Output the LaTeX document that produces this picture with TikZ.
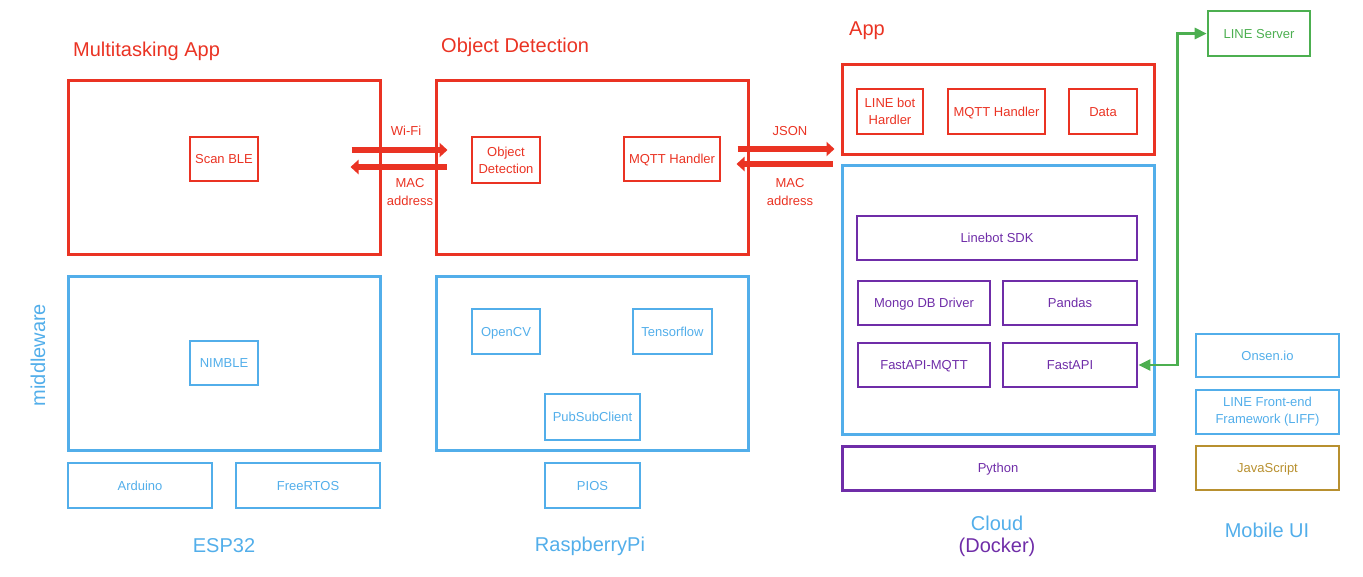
\documentclass[tikz,border=0pt]{standalone}
\usepackage{fontspec}
\setmainfont{Liberation Sans}
\usetikzlibrary{arrows.meta,calc}
\definecolor{cred}{HTML}{EA3323}
\definecolor{cblue}{HTML}{52AEEA}
\definecolor{cpurple}{HTML}{6F2DA8}
\definecolor{cgreen}{HTML}{4CAF50}
\definecolor{cgold}{HTML}{B8902F}
\begin{document}
\begin{tikzpicture}[x=1pt,y=-1pt,
  bx/.style={draw, line width=2.6pt, inner sep=0pt, font=\fontsize{13}{17}\selectfont, align=center},
  sl/.style={text height=9.4pt, text depth=0pt},
  rbx/.style={bx, draw=cred, text=cred},
  bbx/.style={bx, draw=cblue, text=cblue},
  pbx/.style={bx, draw=cpurple, text=cpurple},
  gbx/.style={bx, draw=cgreen, text=cgreen},
  ybx/.style={bx, draw=cgold, text=cgold},
  big/.style={line width=3pt},
  ttl/.style={font=\fontsize{20}{24}\selectfont, inner sep=0pt},
  lbl/.style={font=\fontsize{13}{18}\selectfont, inner sep=0pt, align=center, text=cred},
  fat/.style={draw=cred, line width=6.5pt, -{Triangle[length=8pt,width=14pt]}},
  grn/.style={draw=cgreen, line width=2.6pt, {Triangle[length=12pt,width=11pt]}-{Triangle[length=12pt,width=11pt]}}
]
\useasboundingbox (0,0) rectangle (1363,576);
% ESP32
\node[rbx, big, minimum width=312pt, minimum height=174pt] (espapp) at (224,167) {};
\node[rbx, sl, minimum width=68pt, minimum height=44pt] (scanble) at (224,159) {Scan BLE};
\node[bbx, big, minimum width=312pt, minimum height=174pt] (espmw) at (224,363) {};
\node[bbx, sl, minimum width=68pt, minimum height=44pt] (nimble) at (224,363) {NIMBLE};
\node[bbx, sl, minimum width=144pt, minimum height=45pt] (arduino) at (140,485.5) {Arduino};
\node[bbx, sl, minimum width=144pt, minimum height=45pt] (freertos) at (308,485.5) {FreeRTOS};
\node[ttl, text=cred, anchor=west] (t1) at (73,51) {Multitasking App};
\node[ttl, text=cblue] (esp) at (224,546) {ESP32};
\node[ttl, text=cblue, rotate=90] (mw) at (38,355) {middleware};
% RaspberryPi
\node[rbx, big, minimum width=312pt, minimum height=174pt] (odapp) at (592,167) {};
\node[rbx, minimum width=68pt, minimum height=46pt] (odinner) at (506,160) {Object\\Detection};
\node[rbx, sl, minimum width=96pt, minimum height=44pt] (mqtt1) at (672,159) {MQTT Handler};
\node[bbx, big, minimum width=312pt, minimum height=174pt] (rpimw) at (592,363) {};
\node[bbx, sl, minimum width=68pt, minimum height=45pt] (opencv) at (506,331.5) {OpenCV};
\node[bbx, sl, minimum width=79pt, minimum height=45pt] (tensorflow) at (672.5,331.5) {Tensorflow};
\node[bbx, sl, minimum width=95pt, minimum height=46pt] (pubsub) at (592.5,417) {PubSubClient};
\node[bbx, sl, minimum width=95pt, minimum height=45pt] (pios) at (592.5,485.5) {PIOS};
\node[ttl, text=cred, anchor=west] (t2) at (441,47) {Object Detection};
\node[ttl, text=cblue] (rpi) at (590,546) {RaspberryPi};
% Cloud
\node[rbx, big, minimum width=312pt, minimum height=90pt] (cloudapp) at (998,109) {};
\node[rbx, minimum width=66pt, minimum height=45pt] (linebot) at (890,111.5) {LINE bot\\Hardler};
\node[rbx, sl, minimum width=97pt, minimum height=45pt] (mqtt2) at (996.5,111.5) {MQTT Handler};
\node[rbx, sl, minimum width=68pt, minimum height=45pt] (data) at (1103,111.5) {Data};
\node[bbx, big, minimum width=312pt, minimum height=269pt] (cloudmw) at (998,299.5) {};
\node[pbx, sl, minimum width=280pt, minimum height=44pt] (sdk) at (997,238) {Linebot SDK};
\node[pbx, sl, minimum width=132pt, minimum height=44pt] (mongo) at (924,303) {Mongo DB Driver};
\node[pbx, sl, minimum width=134pt, minimum height=44pt] (pandas) at (1070,303) {Pandas};
\node[pbx, sl, minimum width=132pt, minimum height=44pt] (fastmqtt) at (924,365) {FastAPI-MQTT};
\node[pbx, sl, minimum width=134pt, minimum height=44pt] (fastapi) at (1070,365) {FastAPI};
\node[pbx, sl, big, minimum width=312pt, minimum height=44pt] (python) at (998,468) {Python};
\node[ttl, text=cred, anchor=west] (t3) at (849,31) {App};
\node[ttl, text=cblue] (cloud) at (997,523) {Cloud};
\node[ttl, text=cpurple] (docker) at (997,547) {(Docker)};
% Mobile
\node[gbx, sl, minimum width=102pt, minimum height=45pt] (lineserver) at (1259,33.5) {LINE Server};
\node[bbx, sl, minimum width=143pt, minimum height=43pt] (onsen) at (1267.5,355.5) {Onsen.io};
\node[bbx, minimum width=143pt, minimum height=44pt] (liff) at (1267.5,412) {LINE Front-end\\Framework (LIFF)};
\node[ybx, sl, minimum width=143pt, minimum height=44pt] (js) at (1267.5,468) {JavaScript};
\node[ttl, text=cblue] (mob) at (1267,530) {Mobile UI};
% arrows ESP32 <-> RPi
\draw[fat] ([shift={(-30,-17)}]espapp.east) -- ([shift={(13,-17)}]odapp.west);
\draw[fat] ([shift={(12,0)}]odapp.west) -- ([shift={(-31,0)}]espapp.east);
\node[lbl] (wifi) at (406,131) {Wi-Fi};
\node[lbl] (mac1) at (410,192) {MAC\\address};
% arrows RPi <-> Cloud
\draw[fat] ([shift={(-12,-18)}]odapp.east) -- ([shift={(-6,-18)}]cloudmw.west |- odapp.east);
\draw[fat] ([shift={(-8,-3)}]cloudmw.west |- odapp.east) -- ([shift={(-13,-3)}]odapp.east);
\node[lbl] (json) at (790,131) {JSON};
\node[lbl] (mac2) at (790,192) {MAC\\address};
% green
\draw[grn] (fastapi.east) -- ++(39,0) |- (lineserver.west);
\end{tikzpicture}
\end{document}
